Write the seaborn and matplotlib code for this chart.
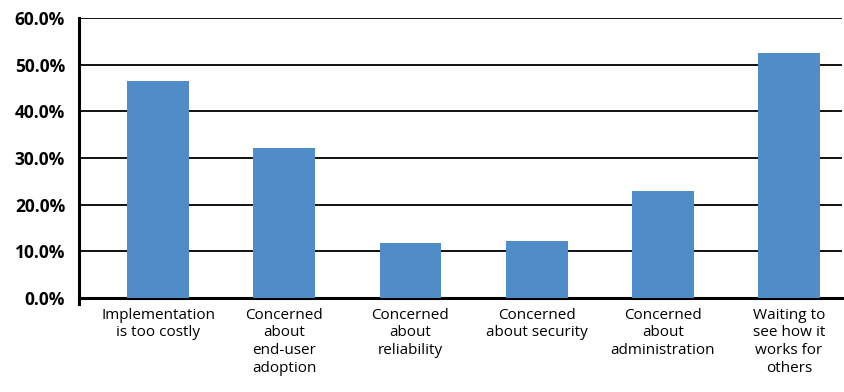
import matplotlib
matplotlib.use("Agg")
import matplotlib.pyplot as plt
import seaborn as sns
import pandas as pd
from matplotlib.ticker import FuncFormatter

categories = [
    "Implementation\nis too costly",
    "Concerned\nabout\nend-user\nadoption",
    "Concerned\nabout\nreliability",
    "Concerned\nabout security",
    "Concerned\nabout\nadministration",
    "Waiting to\nsee how it\nworks for\nothers",
]
values = [46.6, 32.2, 11.8, 12.3, 23.0, 52.6]

df = pd.DataFrame({"Reason": categories, "Pct": values})

sns.set_theme(style="white")
plt.rcParams['font.family'] = ['Open Sans', 'DejaVu Sans']

fig = plt.figure(figsize=(8.44, 3.92), dpi=100)
ax = fig.add_axes([0.0936, 0.2398, 0.904, 0.7142])

sns.barplot(data=df, x="Reason", y="Pct", color="#508DC8", width=0.49,
            saturation=1, linewidth=0, ax=ax, zorder=3)

ax.set_ylim(0, 60)
ax.set_yticks(range(0, 61, 10))
ax.yaxis.set_major_formatter(FuncFormatter(lambda v, p: f"{v:.1f}%"))
ax.set_xlim(-0.627, 5.42)
ax.grid(axis="y", color="#111111", linewidth=1.4, zorder=0)
ax.grid(axis="x", visible=False)

for s in ["top", "right"]:
    ax.spines[s].set_visible(False)
ax.spines["left"].set_linewidth(2.2)
ax.spines["left"].set_color("black")
ax.spines["left"].set_bounds(-1.3, 60)
ax.spines["bottom"].set_linewidth(2.2)
ax.spines["bottom"].set_color("black")

ax.tick_params(axis="y", length=0, pad=10, labelsize=12.5, labelcolor="black")
for t in ax.get_yticklabels():
    t.set_fontweight("bold")
ax.tick_params(axis="x", length=0, pad=7, labelsize=11, labelcolor="black")
for t in ax.get_xticklabels():
    t.set_linespacing(1.25)
    t.set_horizontalalignment("center")

ax.set_xlabel("")
ax.set_ylabel("")

fig.savefig("out.png", dpi=100)
